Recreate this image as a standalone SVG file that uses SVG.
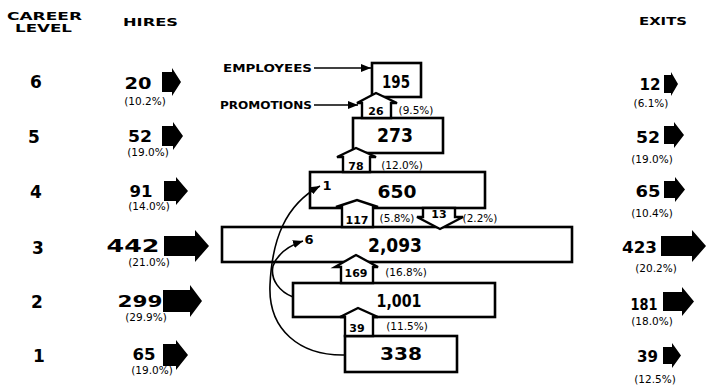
<svg xmlns="http://www.w3.org/2000/svg" width="706" height="388" viewBox="0 0 706 388">
<defs>
<style>
.box{fill:#fff;stroke:#000;stroke-width:2.6}
.pr{fill:#fff;stroke:#000;stroke-width:2.4;stroke-linejoin:miter}
.blk{fill:#000}
.ln{fill:none;stroke:#000;stroke-width:1.6}
.n{font-family:"DejaVu Sans",sans-serif;font-weight:bold;text-anchor:middle;fill:#000}
.p{font-family:"DejaVu Sans",sans-serif;font-size:10.5px;text-anchor:middle;fill:#000}
.h{font-family:"DejaVu Sans",sans-serif;font-weight:bold;font-size:11px;fill:#000}
.s{font-family:"DejaVu Sans",sans-serif;font-weight:bold;font-size:10px;fill:#000}
</style>
<marker id="ah" markerUnits="userSpaceOnUse" markerWidth="11" markerHeight="8" refX="10" refY="4" orient="auto">
<path d="M0,0 L10,4 L0,8 z" fill="#000"/>
</marker>
</defs>
<rect width="706" height="388" fill="#fff"/>

<g id="headers">
<text class="h" x="7" y="19.5" textLength="75" lengthAdjust="spacingAndGlyphs">CAREER</text>
<text class="h" x="15" y="32" textLength="57" lengthAdjust="spacingAndGlyphs">LEVEL</text>
<text class="h" x="123" y="26" textLength="55" lengthAdjust="spacingAndGlyphs">HIRES</text>
<text class="h" x="639" y="25" textLength="48" lengthAdjust="spacingAndGlyphs">EXITS</text>
</g>

<g id="levels">
<text class="n" x="36" y="88" font-size="17">6</text>
<text class="n" x="34" y="143" font-size="17">5</text>
<text class="n" x="36" y="198" font-size="17">4</text>
<text class="n" x="38" y="254" font-size="17">3</text>
<text class="n" x="37" y="308" font-size="17">2</text>
<text class="n" x="39" y="362" font-size="17">1</text>
</g>

<g id="hires">
<g id="hire-6">
<text class="n" x="138" y="89" font-size="16" textLength="27" lengthAdjust="spacingAndGlyphs">20</text>
<text class="p" x="145" y="105">(10.2%)</text>
<polygon class="blk" points="162,72 172,72 172,68 181,82 172,96 172,92 162,92"/>
</g>
<g id="hire-5">
<text class="n" x="140" y="142" font-size="16" textLength="24" lengthAdjust="spacingAndGlyphs">52</text>
<text class="p" x="148" y="156">(19.0%)</text>
<polygon class="blk" points="162,126 173,126 173,122 183,136 173,150 173,146 162,146"/>
</g>
<g id="hire-4">
<text class="n" x="141" y="197" font-size="16" textLength="23" lengthAdjust="spacingAndGlyphs">91</text>
<text class="p" x="149" y="210">(14.0%)</text>
<polygon class="blk" points="164,181 176,181 176,177 188,191 176,205 176,201 164,201"/>
</g>
<g id="hire-3">
<text class="n" x="133" y="252" font-size="18" textLength="53" lengthAdjust="spacingAndGlyphs">442</text>
<text class="p" x="149" y="266">(21.0%)</text>
<polygon class="blk" points="164,236 195,236 195,230 209,246 195,262 195,256 164,256"/>
</g>
<g id="hire-2">
<text class="n" x="140" y="307" font-size="16" textLength="45" lengthAdjust="spacingAndGlyphs">299</text>
<text class="p" x="146" y="321">(29.9%)</text>
<polygon class="blk" points="163,290 190,290 190,285 202,301 190,317 190,312 163,312"/>
</g>
<g id="hire-1">
<text class="n" x="144" y="360" font-size="16" textLength="23" lengthAdjust="spacingAndGlyphs">65</text>
<text class="p" x="152" y="374">(19.0%)</text>
<polygon class="blk" points="163,344 176,344 176,340 188,355 176,370 176,366 163,366"/>
</g>
</g>

<g id="exits">
<g id="exit-6">
<text class="n" x="650" y="90" font-size="16" textLength="21" lengthAdjust="spacingAndGlyphs">12</text>
<text class="p" x="651" y="107">(6.1%)</text>
<polygon class="blk" points="664,75 671,75 671,72 678,84 671,96 671,93 664,93"/>
</g>
<g id="exit-5">
<text class="n" x="648" y="143" font-size="16" textLength="24" lengthAdjust="spacingAndGlyphs">52</text>
<text class="p" x="652" y="163">(19.0%)</text>
<polygon class="blk" points="664,126 674,126 674,122 684,135 674,148 674,144 664,144"/>
</g>
<g id="exit-4">
<text class="n" x="648" y="197" font-size="16" textLength="25" lengthAdjust="spacingAndGlyphs">65</text>
<text class="p" x="652" y="217">(10.4%)</text>
<polygon class="blk" points="664,181 675,181 675,177 685,189.5 675,202 675,198 664,198"/>
</g>
<g id="exit-3">
<text class="n" x="639.5" y="253" font-size="16" textLength="35" lengthAdjust="spacingAndGlyphs">423</text>
<text class="p" x="656" y="272">(20.2%)</text>
<polygon class="blk" points="661,236 692,236 692,230 706,246 692,262 692,256 661,256"/>
</g>
<g id="exit-2">
<text class="n" x="644" y="310" font-size="16" textLength="27" lengthAdjust="spacingAndGlyphs">181</text>
<text class="p" x="652" y="325">(18.0%)</text>
<polygon class="blk" points="663,292 682,292 682,287 694,301.5 682,316 682,311 663,311"/>
</g>
<g id="exit-1">
<text class="n" x="647.5" y="362" font-size="16" textLength="21" lengthAdjust="spacingAndGlyphs">39</text>
<text class="p" x="655" y="383">(12.5%)</text>
<polygon class="blk" points="663,347 672,347 672,343 681,355.5 672,368 672,364 663,364"/>
</g>
</g>

<g id="node-6">
<rect class="box" x="372" y="63" width="49" height="34"/>
<text class="n" x="396" y="88" font-size="18" textLength="28" lengthAdjust="spacingAndGlyphs">195</text>
</g>
<g id="node-5">
<rect class="box" x="353" y="118" width="90" height="35"/>
<text class="n" x="395" y="142" font-size="19" textLength="36" lengthAdjust="spacingAndGlyphs">273</text>
</g>
<g id="node-4">
<rect class="box" x="310" y="172" width="175" height="36"/>
<text class="n" x="397" y="198" font-size="18" textLength="39" lengthAdjust="spacingAndGlyphs">650</text>
</g>
<g id="node-3">
<rect class="box" x="222" y="227" width="350" height="35"/>
<text class="n" x="395" y="252" font-size="19" textLength="54" lengthAdjust="spacingAndGlyphs">2,093</text>
</g>
<g id="node-2">
<rect class="box" x="293" y="283" width="202" height="34"/>
<text class="n" x="399" y="307" font-size="18" textLength="45" lengthAdjust="spacingAndGlyphs">1,001</text>
</g>
<g id="node-1">
<rect class="box" x="345" y="336" width="112" height="36"/>
<text class="n" x="401" y="360" font-size="18" textLength="42" lengthAdjust="spacingAndGlyphs">338</text>
</g>

<g id="promo-26">
<polygon class="pr" points="362,118 362,103 357,103 376,93 397,103 391,103 391,118"/>
<text class="n" x="376" y="115" font-size="11">26</text>
<text class="p" x="416" y="114">(9.5%)</text>
</g>
<g id="promo-78">
<polygon class="pr" points="343,172 343,157 337,157 356,148 376,157 370,157 370,172"/>
<text class="n" x="356" y="170" font-size="11">78</text>
<text class="p" x="402" y="169">(12.0%)</text>
</g>
<g id="promo-117">
<polygon class="pr" points="342,227 342,207 336,207 357,200 378,207 373,207 373,227"/>
<text class="n" x="357" y="224" font-size="11">117</text>
<text class="p" x="397" y="222">(5.8%)</text>
</g>
<g id="demo-13">
<polygon class="pr" points="423,208 423,217 417,217 440,229 463,217 455,217 455,208"/>
<text class="n" x="439" y="218" font-size="11">13</text>
<text class="p" x="480" y="222">(2.2%)</text>
</g>
<g id="promo-169">
<polygon class="pr" points="341,283 341,267 335,267 356,255 378,267 373,267 373,283"/>
<text class="n" x="356" y="277" font-size="11">169</text>
<text class="p" x="406" y="276">(16.8%)</text>
</g>
<g id="promo-39">
<polygon class="pr" points="345,336 345,317 340,317 358,308 378,317 373,317 373,336"/>
<text class="n" x="357" y="332" font-size="11">39</text>
<text class="p" x="407" y="330">(11.5%)</text>
</g>

<g id="legend">
<text class="s" x="223" y="72" textLength="89" lengthAdjust="spacingAndGlyphs">EMPLOYEES</text>
<text class="s" x="220" y="109" textLength="92" lengthAdjust="spacingAndGlyphs">PROMOTIONS</text>
</g>

<g id="connectors">
<line class="ln" x1="314" y1="68" x2="371" y2="68" marker-end="url(#ah)"/>
<line class="ln" x1="314" y1="105" x2="358" y2="105" marker-end="url(#ah)"/>
<path class="ln" d="M345,355 C300,356 268,330 270,285 C272,240 285,205 320,186" marker-end="url(#ah)"/>
<path class="ln" d="M293,297 C280,292 270,280 273,266 C277,255 288,246 303,241" marker-end="url(#ah)"/>
<text class="n" x="327" y="190" font-size="13" font-weight="normal">1</text>
<text class="n" x="309" y="244" font-size="13" font-weight="normal">6</text>
</g>
</svg>
